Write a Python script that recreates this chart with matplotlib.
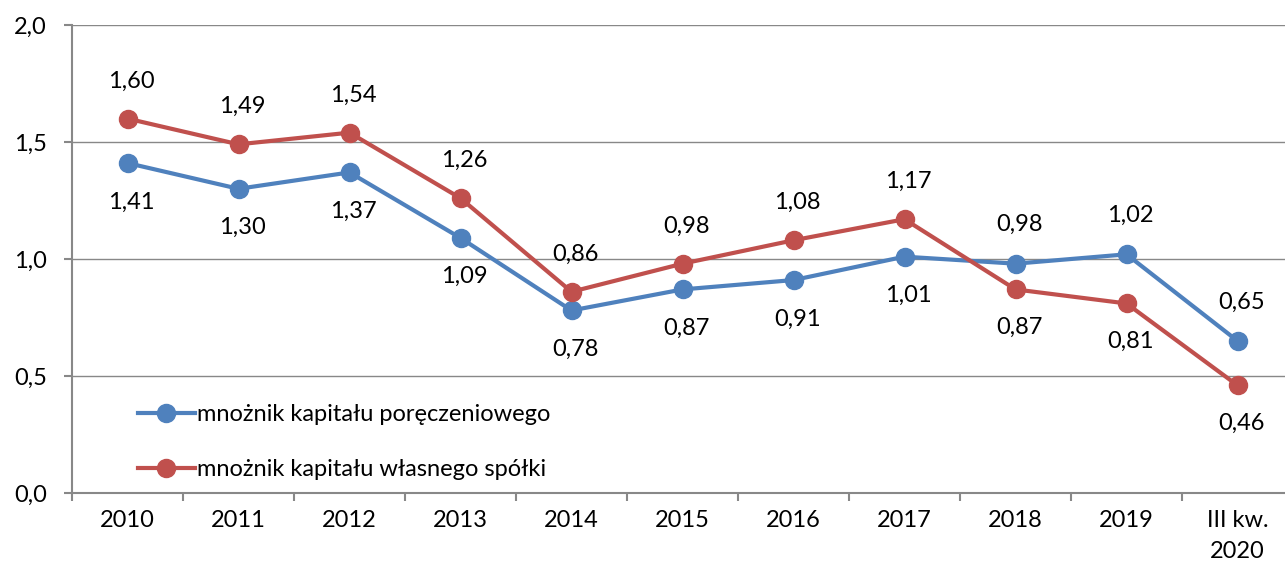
import matplotlib.pyplot as plt
import numpy as np

# データ
categories = ["2010", "2011", "2012", "2013", "2014", "2015", "2016",
              "2017", "2018", "2019", "III kw.\n2020"]
poreczeniowy = [1.41, 1.30, 1.37, 1.09, 0.78, 0.87, 0.91, 1.01, 0.98, 1.02, 0.65]
wlasny = [1.60, 1.49, 1.54, 1.26, 0.86, 0.98, 1.08, 1.17, 0.87, 0.81, 0.46]

# ラベル位置 (1 = 上, -1 = 下)
pos_blue = [-1, -1, -1, -1, -1, -1, -1, -1, 1, 1, 1]
pos_red = [1, 1, 1, 1, 1, 1, 1, 1, -1, -1, -1]

plt.rcParams['font.family'] = ['Lato', 'DejaVu Sans']
fs = 17

fig = plt.figure(figsize=(12.85, 5.71), dpi=100)
ax = fig.add_axes([72 / 1285, 78 / 571, 1221 / 1285, 468 / 571])

x = np.arange(len(categories))
blue = "#4F81BD"
red = "#C0504D"

ax.plot(x, poreczeniowy, color=blue, lw=3, marker='o', ms=13,
        label="mnożnik kapitału poręczeniowego", zorder=3)
ax.plot(x, wlasny, color=red, lw=3, marker='o', ms=13,
        label="mnożnik kapitału własnego spółki", zorder=3)

for xi, v, p in zip(x, poreczeniowy, pos_blue):
    ax.annotate(f"{v:.2f}".replace(".", ","), (xi, v), xytext=(3, 28 * p),
                textcoords='offset points', ha='center', va='center', fontsize=fs)
for xi, v, p in zip(x, wlasny, pos_red):
    ax.annotate(f"{v:.2f}".replace(".", ","), (xi, v), xytext=(3, 27 * p),
                textcoords='offset points', ha='center', va='center', fontsize=fs)

ax.set_xlim(-0.5, 10.5)
ax.set_ylim(0, 2.0)
ax.set_yticks([0, 0.5, 1.0, 1.5, 2.0])
ax.set_yticklabels(["0,0", "0,5", "1,0", "1,5", "2,0"], fontsize=fs)
ax.set_xticks(x)
ax.set_xticklabels(categories, fontsize=fs, va='top', linespacing=1.6)
ax.set_xticks(np.arange(-0.5, 10.6, 1), minor=True)
ax.tick_params(axis='x', which='major', length=0, pad=12)
ax.tick_params(axis='x', which='minor', length=6, color='#888888', width=1.5)
ax.tick_params(axis='y', length=6, color='#888888', width=1.5, pad=12)

ax.grid(axis='y', color='#888888', lw=1)
ax.set_axisbelow(True)
for s in ['top', 'right']:
    ax.spines[s].set_visible(False)
for s in ['left', 'bottom']:
    ax.spines[s].set_color('#888888')
    ax.spines[s].set_linewidth(1.5)

ax.legend(loc='upper left', bbox_to_anchor=(0.054, 0.19), frameon=False,
          fontsize=fs, handlelength=2.4, handletextpad=0.1, labelspacing=1.45,
          borderpad=0, borderaxespad=0)

fig.savefig("out.png", dpi=100)
